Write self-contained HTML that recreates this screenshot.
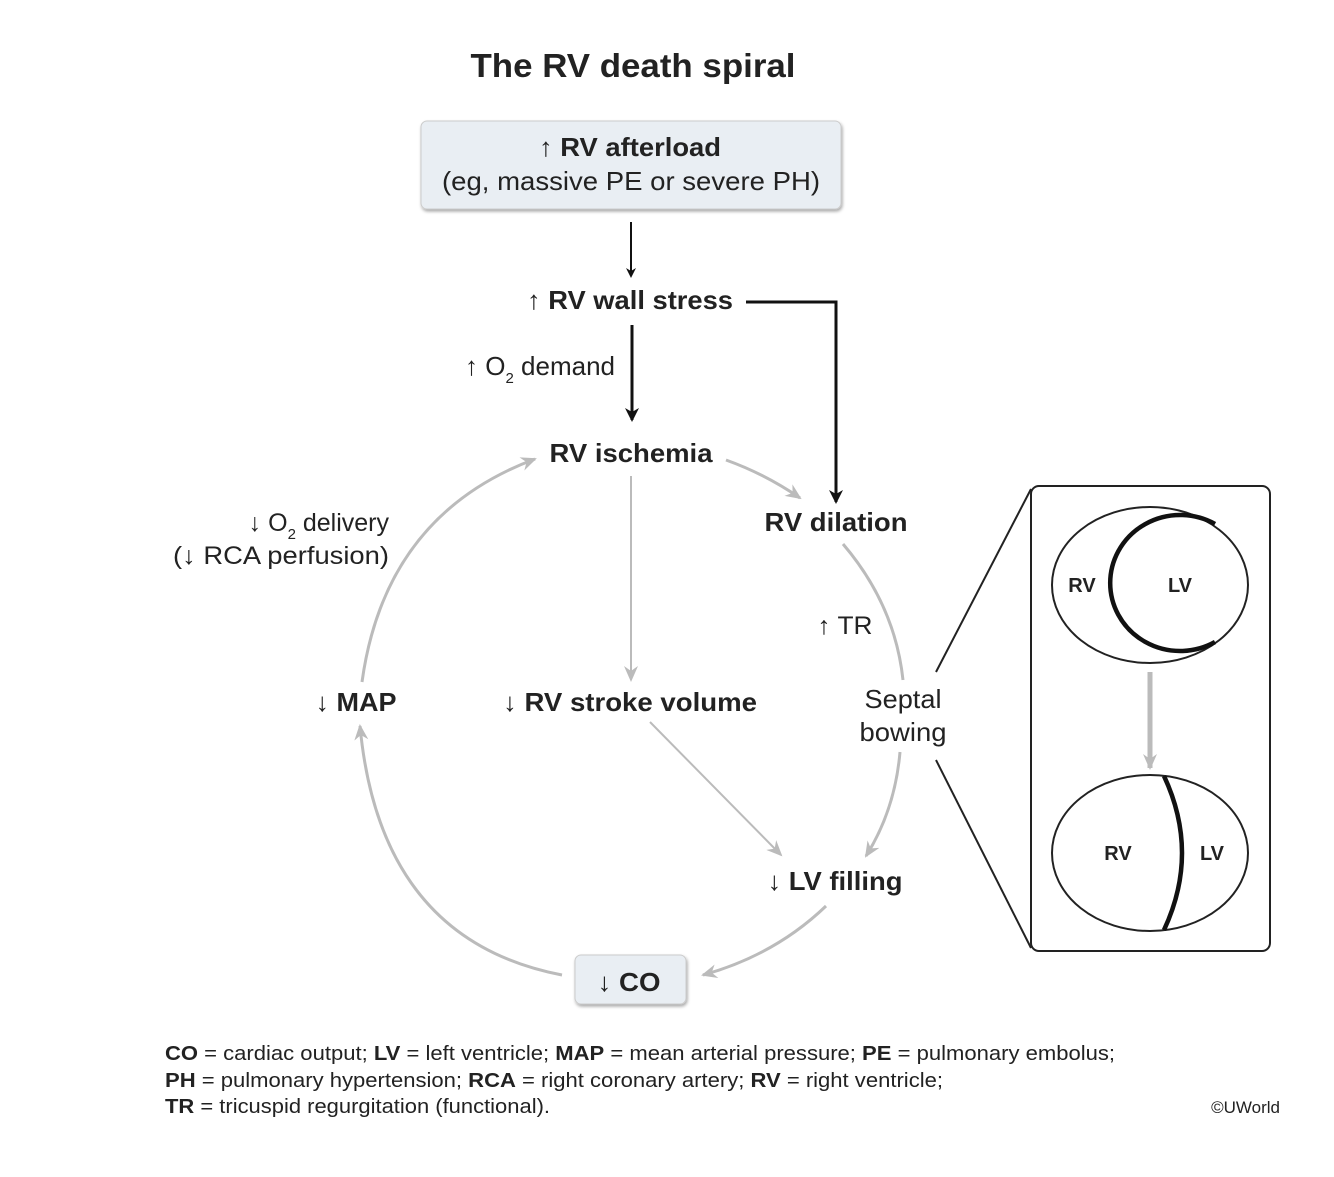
<!DOCTYPE html>
<html><head><meta charset="utf-8"><style>
body{margin:0;background:#fff}
svg text{font-family:"Liberation Sans",Arial,sans-serif;fill:#222}
.b{font-weight:bold}
</style></head><body>
<svg width="1334" height="1172" viewBox="0 0 1334 1172" xmlns="http://www.w3.org/2000/svg">
<defs>
<marker id="ab" markerWidth="10" markerHeight="10" refX="8" refY="5" orient="auto" markerUnits="userSpaceOnUse"><path d="M0,0 L10,5 L0,10 L3,5Z" fill="#111"/></marker>
<marker id="ab2" markerWidth="14" markerHeight="14" refX="12" refY="7" orient="auto" markerUnits="userSpaceOnUse"><path d="M0,0 L14,7 L0,14 L4,7Z" fill="#111"/></marker>
<marker id="ag" markerWidth="16" markerHeight="14" refX="14" refY="7" orient="auto" markerUnits="userSpaceOnUse"><path d="M0,0 L16,7 L0,14 L5,7Z" fill="#bbb"/></marker>
<filter id="sh" x="-5%" y="-10%" width="110%" height="130%"><feDropShadow dx="1" dy="2" stdDeviation="1.5" flood-color="#000" flood-opacity="0.35"/></filter>
</defs>
<text x="633" y="77" font-size="33" text-anchor="middle" class="b" textLength="325" lengthAdjust="spacingAndGlyphs">The RV death spiral</text>
<rect x="421" y="121" width="420" height="88" rx="6" fill="#e9eef3" stroke="#ccc" filter="url(#sh)"/>
<text x="630" y="156" font-size="26" text-anchor="middle" textLength="182" lengthAdjust="spacingAndGlyphs"><tspan>↑ </tspan><tspan class="b">RV afterload</tspan></text>
<text x="631" y="190" font-size="26" text-anchor="middle" textLength="378" lengthAdjust="spacingAndGlyphs">(eg, massive PE or severe PH)</text>
<line x1="631" y1="222" x2="631" y2="276" stroke="#111" stroke-width="2" marker-end="url(#ab)"/>
<text x="630" y="309" font-size="26" text-anchor="middle" textLength="206" lengthAdjust="spacingAndGlyphs"><tspan>↑ </tspan><tspan class="b">RV wall stress</tspan></text>
<polyline points="746,302 836,302 836,502" fill="none" stroke="#111" stroke-width="3" marker-end="url(#ab2)"/>
<line x1="632" y1="325" x2="632" y2="420" stroke="#111" stroke-width="3" marker-end="url(#ab2)"/>
<text x="615" y="375" font-size="26" text-anchor="end">↑ O<tspan font-size="15" dy="8">2</tspan><tspan dy="-8"> demand</tspan></text>
<text x="631" y="462" font-size="26" text-anchor="middle" class="b" textLength="163" lengthAdjust="spacingAndGlyphs">RV ischemia</text>
<path d="M726,460 Q765,474 800,498" fill="none" stroke="#bbb" stroke-width="3" marker-end="url(#ag)"/>
<text x="836" y="531" font-size="26" text-anchor="middle" class="b" textLength="143" lengthAdjust="spacingAndGlyphs">RV dilation</text>
<line x1="631" y1="476" x2="631" y2="680" stroke="#bbb" stroke-width="2" marker-end="url(#ag)"/>
<text x="845" y="634" font-size="25" text-anchor="middle" textLength="55" lengthAdjust="spacingAndGlyphs">↑ TR</text>
<path d="M843,544 Q895,605 903,680" fill="none" stroke="#bbb" stroke-width="3"/>
<path d="M900,752 Q895,810 866,856" fill="none" stroke="#bbb" stroke-width="3" marker-end="url(#ag)"/>
<text x="903" y="708" font-size="26" text-anchor="middle" textLength="77" lengthAdjust="spacingAndGlyphs">Septal</text>
<text x="903" y="741" font-size="26" text-anchor="middle" textLength="87" lengthAdjust="spacingAndGlyphs">bowing</text>
<text x="630" y="711" font-size="26" text-anchor="middle" textLength="254" lengthAdjust="spacingAndGlyphs"><tspan>↓ </tspan><tspan class="b">RV stroke volume</tspan></text>
<line x1="650" y1="722" x2="781" y2="855" stroke="#bbb" stroke-width="2" marker-end="url(#ag)"/>
<text x="356" y="711" font-size="26" text-anchor="middle" textLength="81" lengthAdjust="spacingAndGlyphs"><tspan>↓ </tspan><tspan class="b">MAP</tspan></text>
<text x="835" y="890" font-size="26" text-anchor="middle" textLength="135" lengthAdjust="spacingAndGlyphs"><tspan>↓ </tspan><tspan class="b">LV filling</tspan></text>
<rect x="575" y="955" width="111" height="49" rx="6" fill="#e9eef3" stroke="#ccc" filter="url(#sh)"/>
<text x="629" y="991" font-size="26" text-anchor="middle" textLength="63" lengthAdjust="spacingAndGlyphs"><tspan>↓ </tspan><tspan class="b">CO</tspan></text>
<path d="M826,906 Q775,955 703,975" fill="none" stroke="#bbb" stroke-width="3" marker-end="url(#ag)"/>
<path d="M562,975 Q380,940 360,726" fill="none" stroke="#bbb" stroke-width="3" marker-end="url(#ag)"/>
<path d="M362,682 Q385,515 535,459" fill="none" stroke="#bbb" stroke-width="3" marker-end="url(#ag)"/>
<text x="389" y="531" font-size="25" text-anchor="end">↓ O<tspan font-size="15" dy="8">2</tspan><tspan dy="-8"> delivery</tspan></text>
<text x="389" y="564" font-size="25" text-anchor="end" textLength="216" lengthAdjust="spacingAndGlyphs">(↓ RCA perfusion)</text>
<rect x="1031" y="486" width="239" height="465" rx="8" fill="#fff" stroke="#222" stroke-width="2"/>
<line x1="936" y1="672" x2="1031" y2="489" stroke="#222" stroke-width="2"/>
<line x1="936" y1="760" x2="1031" y2="948" stroke="#222" stroke-width="2"/>
<ellipse cx="1150" cy="585" rx="98" ry="78" fill="none" stroke="#222" stroke-width="2"/>
<path d="M1215,524 A70,68 0 1 0 1215,642" fill="none" stroke="#111" stroke-width="4.5"/>
<text x="1082" y="592" font-size="20" text-anchor="middle" class="b">RV</text>
<text x="1180" y="592" font-size="20" text-anchor="middle" class="b">LV</text>
<line x1="1150" y1="672" x2="1150" y2="768" stroke="#bbb" stroke-width="5" marker-end="url(#ag)"/>
<ellipse cx="1150" cy="853" rx="98" ry="78" fill="none" stroke="#222" stroke-width="2"/>
<path d="M1164,776 Q1200,853 1164,930" fill="none" stroke="#111" stroke-width="4.5"/>
<text x="1118" y="860" font-size="20" text-anchor="middle" class="b">RV</text>
<text x="1212" y="860" font-size="20" text-anchor="middle" class="b">LV</text>
<g font-size="20">
<text x="165" y="1060" textLength="950" lengthAdjust="spacingAndGlyphs"><tspan class="b">CO</tspan> = cardiac output; <tspan class="b">LV</tspan> = left ventricle; <tspan class="b">MAP</tspan> = mean arterial pressure; <tspan class="b">PE</tspan> = pulmonary embolus;</text>
<text x="165" y="1087" textLength="778" lengthAdjust="spacingAndGlyphs"><tspan class="b">PH</tspan> = pulmonary hypertension; <tspan class="b">RCA</tspan> = right coronary artery; <tspan class="b">RV</tspan> = right ventricle;</text>
<text x="165" y="1113" textLength="385" lengthAdjust="spacingAndGlyphs"><tspan class="b">TR</tspan> = tricuspid regurgitation (functional).</text>
</g>
<text x="1280" y="1113" font-size="17" text-anchor="end">©UWorld</text>
</svg>
</body></html>
